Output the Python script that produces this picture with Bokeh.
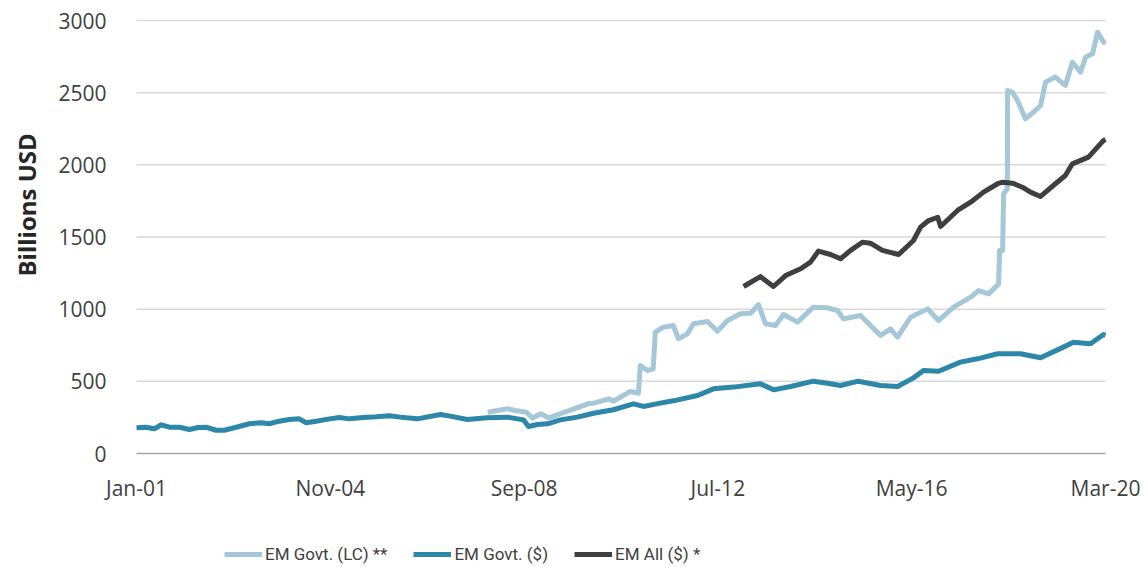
import pandas as pd
from bokeh.plotting import figure
from bokeh.models import Range1d, FixedTicker, DatetimeTickFormatter, Legend, LegendItem, Title
from bokeh.embed import file_html
from bokeh.resources import INLINE

# EM Govt. ($)
usd_dates = ["2001-01-01", "2001-03-12", "2001-05-09", "2001-06-29", "2001-08-26", "2001-11-07",
             "2002-01-18", "2002-03-23", "2002-05-19", "2002-07-31", "2002-09-27", "2002-12-23",
             "2003-03-26", "2003-06-21", "2003-08-18", "2003-10-29", "2004-01-10", "2004-03-21",
             "2004-05-11", "2004-07-22", "2004-10-25", "2005-01-06", "2005-03-18", "2005-06-27",
             "2005-09-30", "2006-01-02", "2006-03-21", "2006-07-22", "2007-01-06", "2007-03-17",
             "2007-07-18", "2007-12-10", "2008-05-02", "2008-08-27", "2008-10-02", "2008-12-06",
             "2009-02-17", "2009-05-20", "2009-09-21", "2010-01-15", "2010-06-07", "2010-10-30",
             "2011-01-11", "2011-05-12", "2011-08-14", "2012-02-05", "2012-05-30", "2012-10-22",
             "2013-05-04", "2013-08-07", "2013-12-08", "2014-05-22", "2014-09-01", "2014-12-04",
             "2015-04-12", "2015-09-19", "2016-01-20", "2016-05-14", "2016-07-25", "2016-11-11",
             "2017-04-18", "2017-08-19", "2018-01-12", "2018-06-26", "2018-11-18", "2019-05-02",
             "2019-07-13", "2019-11-14", "2020-02-16", "2020-03-01"]
usd_vals = [178, 182, 171, 199, 182, 182,
            166, 180, 182, 161, 161, 182,
            206, 213, 206, 224, 236, 240,
            213, 224, 240, 249, 240, 249,
            254, 261, 252, 240, 270, 259,
            236, 247, 252, 233, 187, 201,
            206, 233, 252, 279, 303, 344,
            326, 349, 365, 402, 448, 460,
            483, 441, 464, 501, 487, 471,
            501, 471, 464, 524, 575, 570,
            633, 656, 691, 691, 663, 737,
            771, 760, 824, 820]

# EM Govt. (LC) **
lc_dates = ["2007-12-13", "2008-05-02", "2008-06-27", "2008-09-18", "2008-11-01", "2008-12-28",
            "2009-02-25", "2009-07-12", "2009-12-06", "2010-01-15", "2010-05-07", "2010-06-07",
            "2010-10-08", "2010-12-05", "2010-12-19", "2011-02-09", "2011-03-22", "2011-04-06",
            "2011-06-03", "2011-08-14", "2011-09-20", "2011-11-24", "2012-01-07", "2012-04-17",
            "2012-06-28", "2012-09-09", "2012-12-12", "2013-02-23", "2013-04-20", "2013-06-10",
            "2013-08-21", "2013-10-18", "2014-01-28", "2014-05-22", "2014-09-01", "2014-11-12",
            "2014-12-25", "2015-04-27", "2015-09-19", "2015-11-30", "2016-01-20", "2016-04-23",
            "2016-08-24", "2016-11-11", "2017-02-28", "2017-07-01", "2017-08-27", "2017-11-08",
            "2018-01-19", "2018-01-26", "2018-02-17", "2018-02-24", "2018-03-23", "2018-03-25",
            "2018-04-29", "2018-06-04", "2018-08-01", "2018-09-28", "2018-11-18", "2018-12-24",
            "2019-03-05", "2019-05-16", "2019-07-06", "2019-09-03", "2019-10-09", "2019-11-28",
            "2020-01-04", "2020-02-16", "2020-03-01"]
lc_vals = [286, 310, 298, 286, 245, 275,
           247, 293, 344, 349, 379, 362,
           430, 418, 610, 575, 587, 841,
           875, 887, 795, 829, 899, 915,
           847, 921, 968, 972, 1032, 899,
           887, 963, 910, 1014, 1009, 991,
           933, 956, 818, 864, 806, 944,
           1002, 921, 1014, 1083, 1129, 1106,
           1175, 1407, 1407, 1799, 1834, 2515,
           2503, 2446, 2319, 2365, 2411, 2573,
           2608, 2550, 2711, 2642, 2746, 2769,
           2919, 2850, 2840]

# EM All ($) *
all_dates = ["2013-01-03", "2013-05-04", "2013-08-07", "2013-11-02", "2014-02-19", "2014-05-01",
             "2014-06-27", "2014-09-23", "2014-12-04", "2015-02-15", "2015-05-11", "2015-07-08",
             "2015-10-03", "2016-01-28", "2016-05-14", "2016-07-04", "2016-08-31", "2016-11-05",
             "2016-11-26", "2017-03-28", "2017-07-01", "2017-10-02", "2018-01-12", "2018-02-17",
             "2018-04-29", "2018-07-10", "2018-09-06", "2018-11-18", "2019-03-05", "2019-05-16",
             "2019-07-06", "2019-10-30", "2020-02-16", "2020-03-01"]
all_vals = [1157, 1226, 1157, 1233, 1280, 1326,
            1402, 1379, 1349, 1407, 1464, 1457,
            1407, 1379, 1476, 1568, 1614, 1637,
            1573, 1684, 1741, 1811, 1869, 1880,
            1873, 1845, 1811, 1781, 1869, 1926,
            2007, 2053, 2169, 2175]

tick_dates = ["2001-01-01", "2004-11-01", "2008-09-01", "2012-07-01", "2016-05-01", "2020-03-01"]
y_ticks = [0, 500, 1000, 1500, 2000, 2500, 3000]

C_LC = "#A5C7D8"
C_USD = "#2C87A8"
C_ALL = "#3F3F3F"
TXT = "#404040"

def ms(s):
    return pd.Timestamp(s).value / 1e6

# Layout (pixels): the frame covers the whole canvas except a strip on the left for
# the y label; axes are pinned with fixed_location so that tick labels and the
# legend stay inside the frame.
W, H = 1140, 567
FRAME_L = 48
PX_X0, PX_X1 = 136, 1105          # where Jan-01 and Mar-20 sit
PX_Y3000, PX_Y0 = 20, 453         # where 3000 and 0 sit

x0, x1 = ms(tick_dates[0]), ms(tick_dates[-1])
kx = (x1 - x0) / (PX_X1 - PX_X0)
ky = y_ticks[-1] / (PX_Y0 - PX_Y3000)

p = figure(width=W, height=H, x_axis_type="datetime",
           output_backend="svg", toolbar_location=None,
           min_border_left=FRAME_L, min_border_right=0, min_border_top=0, min_border_bottom=0)
p.x_range = Range1d(x0 - (PX_X0 - FRAME_L) * kx, x1 + (W - PX_X1) * kx)
p.y_range = Range1d(-(H - PX_Y0) * ky, y_ticks[-1] + PX_Y3000 * ky)
p.outline_line_color = None
p.grid.visible = False

# horizontal gridlines, spanning the date range only
grid_y = y_ticks[1:]
p.segment(x0=[x0] * len(grid_y), x1=[x1] * len(grid_y), y0=grid_y, y1=grid_y,
          line_color="#D9D9D9", line_width=1.5)

r_lc = p.line(pd.to_datetime(lc_dates), lc_vals, line_color=C_LC, line_width=5, line_join="round")
r_usd = p.line(pd.to_datetime(usd_dates), usd_vals, line_color=C_USD, line_width=5, line_join="round")
r_all = p.line(pd.to_datetime(all_dates), all_vals, line_color=C_ALL, line_width=5, line_join="round")

p.xaxis.fixed_location = 0
p.xaxis.bounds = (x0, x1)
p.xaxis.ticker = FixedTicker(ticks=[ms(d) for d in tick_dates])
p.xaxis.formatter = DatetimeTickFormatter(days="%b-%y", months="%b-%y", years="%b-%y")
p.yaxis.fixed_location = x0
p.yaxis.bounds = (0, y_ticks[-1])
p.yaxis.ticker = FixedTicker(ticks=y_ticks)

for ax in (p.xaxis, p.yaxis):
    ax.major_tick_line_color = None
    ax.minor_tick_line_color = None
    ax.major_label_text_font = "Open Sans"
    ax.major_label_text_font_size = "21px"
    ax.major_label_text_color = TXT
p.xaxis.axis_line_color = "#A6A6A6"
p.xaxis.axis_line_width = 1.5
p.xaxis.major_label_standoff = 14
p.yaxis.axis_line_color = None
p.yaxis.major_label_standoff = 24

ylabel = Title(text="Billions USD", align="left", offset=H - 276,
               text_font="Open Sans", text_font_style="bold", text_font_size="24px",
               text_color="#262626", standoff=12)
p.add_layout(ylabel, "left")

legend = Legend(items=[LegendItem(label="EM Govt. (LC) **", renderers=[r_lc]),
                       LegendItem(label="EM Govt. ($)", renderers=[r_usd]),
                       LegendItem(label="EM All ($) *", renderers=[r_all])],
                orientation="horizontal", location=(224 - FRAME_L, 3),
                border_line_color=None, background_fill_alpha=0,
                label_text_font="Roboto", label_text_font_size="17px",
                label_text_color=TXT, glyph_width=38, label_standoff=3, spacing=26,
                padding=0, margin=0)
p.add_layout(legend, "center")

open("out.html", "w").write(file_html(p, INLINE))
